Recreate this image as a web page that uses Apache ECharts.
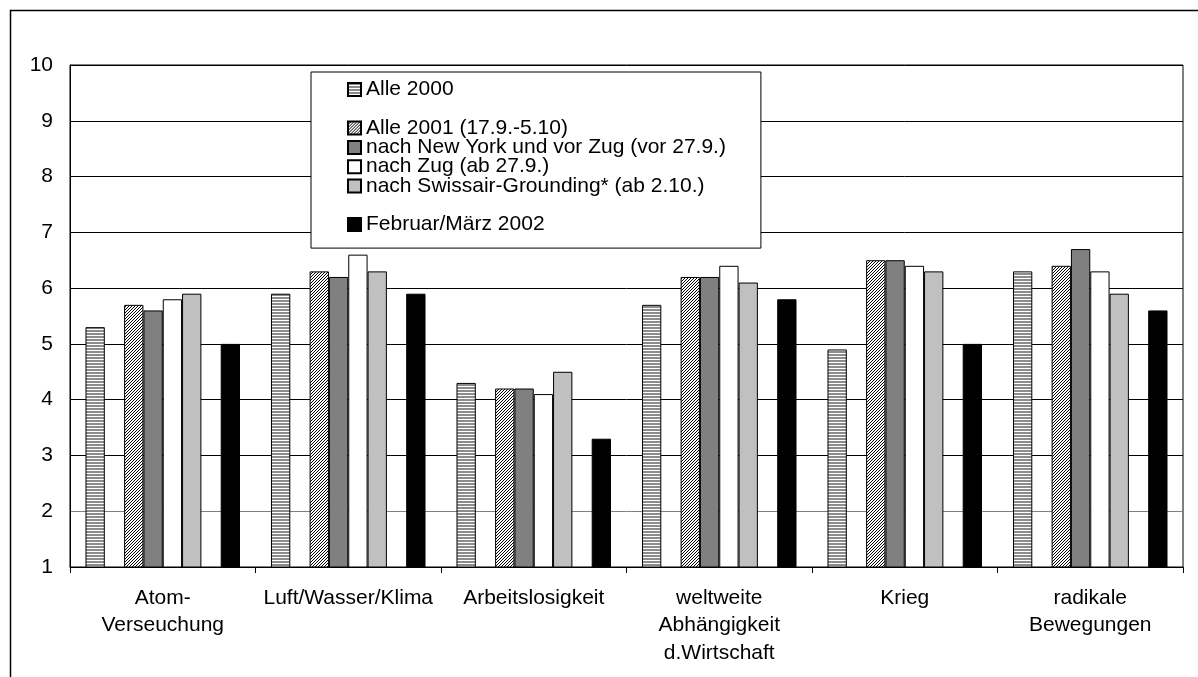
<!DOCTYPE html>
<html>
<head>
<meta charset="utf-8">
<script src="https://cdn.jsdelivr.net/npm/echarts@6/dist/echarts.min.js"></script>
<style>
  html, body { margin: 0; padding: 0; background: #fff; }
  #chart { width: 1198px; height: 677px; }
</style>
</head>
<body>
<div id="chart"></div>
<script>
// ---- data ----
var categories = ['Atom-\nVerseuchung', 'Luft/Wasser/Klima', 'Arbeitslosigkeit', 'weltweite\nAbhängigkeit\nd.Wirtschaft', 'Krieg', 'radikale\nBewegungen'];
var seriesNames = ['Alle 2000', ' ', 'Alle 2001 (17.9.-5.10)', 'nach New York und vor Zug (vor 27.9.)', 'nach Zug (ab 27.9.)', 'nach Swissair-Grounding* (ab 2.10.)', '  ', 'Februar/März 2002'];
var alle2000    = [5.3, 5.9, 4.3, 5.7, 4.9, 6.3];
var spacer1     = [null, null, null, null, null, null];
var alle2001    = [5.7, 6.3, 4.2, 6.2, 6.5, 6.4];
var nachNewYork = [5.6, 6.2, 4.2, 6.2, 6.5, 6.7];
var nachZug     = [5.8, 6.6, 4.1, 6.4, 6.4, 6.3];
var nachSwissair= [5.9, 6.3, 4.5, 6.1, 6.3, 5.9];
var spacer2     = [null, null, null, null, null, null];
var feb2002     = [5.0, 5.9, 3.3, 5.8, 5.0, 5.6];
var yTicks = [1, 2, 3, 4, 5, 6, 7, 8, 9, 10];

// ---- patterns ----
function stripes() {
  var c = document.createElement('canvas'); c.width = 4; c.height = 3;
  var g = c.getContext('2d');
  g.fillStyle = '#fff'; g.fillRect(0, 0, 4, 3);
  g.fillStyle = '#8c8c8c'; g.fillRect(0, 0, 4, 2);
  return c;
}
function hatch() {
  var c = document.createElement('canvas'); c.width = 3; c.height = 3;
  var g = c.getContext('2d');
  g.fillStyle = '#fff'; g.fillRect(0, 0, 3, 3);
  g.fillStyle = '#000';
  g.fillRect(2, 0, 1, 1); g.fillRect(1, 1, 1, 1); g.fillRect(0, 2, 1, 1);
  return c;
}
var fills = [
  { image: stripes(), repeat: 'repeat' },
  '#fff',
  { image: hatch(), repeat: 'repeat' },
  '#808080',
  '#ffffff',
  '#c0c0c0',
  '#fff',
  '#000000'
];
var dataArr = [alle2000, spacer1, alle2001, nachNewYork, nachZug, nachSwissair, spacer2, feb2002];

var FONT = '"Liberation Sans", Arial, sans-serif';
var chart = echarts.init(document.getElementById('chart'));

var series = seriesNames.map(function (n, i) {
  return {
    name: n,
    type: 'bar',
    data: dataArr[i],
    barGap: '0%',
    barCategoryGap: '16.7%',
    itemStyle: { color: fills[i], borderColor: '#000', borderWidth: 1 },
    emphasis: { disabled: true },
    animation: false
  };
});

var legendData = seriesNames.map(function (n, i) {
  if (i === 1 || i === 6) return { name: n, itemStyle: { opacity: 0 } };
  return { name: n };
});

chart.setOption({
  backgroundColor: '#fff',
  animation: false,
  textStyle: { fontFamily: FONT },
  graphic: [{
    type: 'rect', left: 8, top: 8, silent: true,
    shape: { x: 0, y: 0, width: 1400, height: 1000 },
    style: { fill: 'none', stroke: '#000', lineWidth: 1.5 }
  }],
  grid: { left: 70, top: 65, right: 15, bottom: 110, show: true, borderColor: '#000', borderWidth: 1, backgroundColor: 'transparent' },
  legend: {
    orient: 'vertical', left: 311, top: 72,
    data: legendData,
    backgroundColor: '#fff', borderColor: '#000', borderWidth: 1,
    padding: [7, 35, 13, 36],
    itemWidth: 13, itemHeight: 13, itemGap: -1.7,
    icon: 'rect',
    selectedMode: false,
    textStyle: { fontSize: 21, lineHeight: 19.3, color: '#000', fontFamily: FONT }
  },
  xAxis: {
    type: 'category', data: categories,
    axisLine: { lineStyle: { color: '#000', width: 1 } },
    axisTick: { show: true, length: 6, lineStyle: { color: '#000' } },
    axisLabel: { interval: 0, fontSize: 21, lineHeight: 27.5, margin: 17, color: '#000', fontFamily: FONT }
  },
  yAxis: {
    type: 'value', min: yTicks[0], max: yTicks[yTicks.length - 1], interval: 1,
    axisLine: { show: true, lineStyle: { color: '#000', width: 1 } },
    axisTick: { show: false },
    axisLabel: { fontSize: 21, margin: 17, color: '#000', fontFamily: FONT },
    splitLine: { show: true, lineStyle: { color: ['#000', '#808080', '#000', '#000', '#000', '#000', '#000', '#000', '#000', '#000'], width: 1 } }
  },
  series: series
});
</script>
</body>
</html>
